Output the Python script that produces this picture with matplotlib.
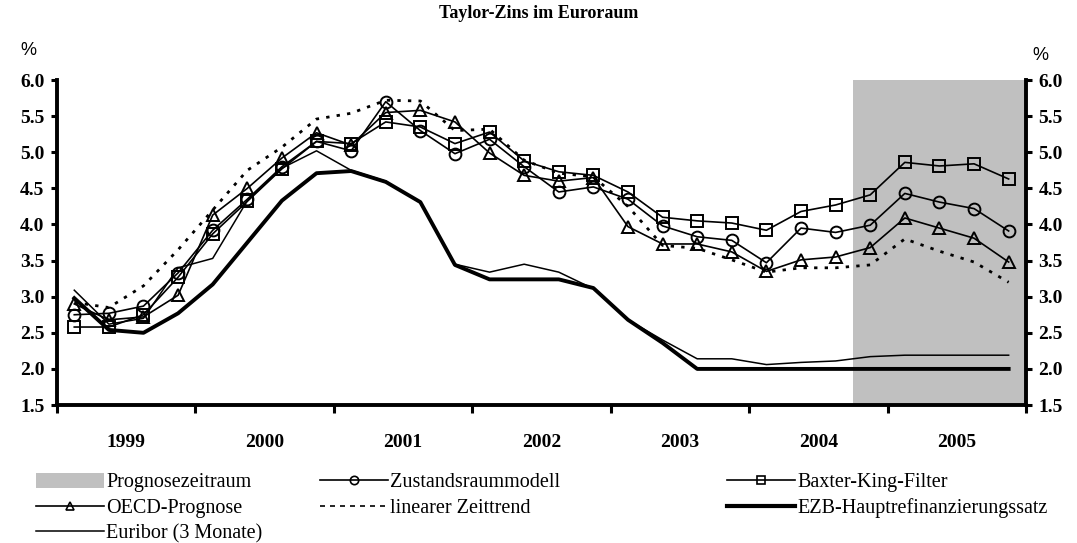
import numpy as np
import matplotlib
matplotlib.use('Agg')
import matplotlib.pyplot as plt
from matplotlib.patches import Patch
from matplotlib.lines import Line2D
from matplotlib.ticker import FormatStrFormatter, FixedLocator

plt.rcParams['font.family'] = ['Liberation Serif', 'DejaVu Serif']

years = ['1999', '2000', '2001', '2002', '2003', '2004', '2005']
# quarterly values 1999Q1 .. 2005Q4
zustand = [2.75, 2.77, 2.87, 3.33, 3.92, 4.35, 4.80, 5.15, 5.02, 5.70, 5.30, 4.98, 5.18, 4.80,
           4.45, 4.52, 4.35, 3.98, 3.83, 3.78, 3.47, 3.95, 3.89, 3.99, 4.43, 4.31, 4.22, 3.91]
baxter = [2.58, 2.58, 2.75, 3.27, 3.87, 4.32, 4.77, 5.15, 5.12, 5.42, 5.35, 5.12, 5.28, 4.88,
          4.73, 4.68, 4.45, 4.10, 4.05, 4.02, 3.92, 4.18, 4.27, 4.41, 4.86, 4.81, 4.84, 4.63]
oecd = [2.90, 2.68, 2.72, 3.02, 4.13, 4.50, 4.92, 5.27, 5.10, 5.55, 5.58, 5.42, 4.99, 4.68,
        4.60, 4.65, 3.97, 3.73, 3.73, 3.62, 3.35, 3.51, 3.55, 3.68, 4.09, 3.95, 3.81, 3.48]
trend = [2.92, 2.85, 3.15, 3.65, 4.20, 4.75, 5.07, 5.46, 5.54, 5.72, 5.71, 5.30, 5.32, 4.89,
         4.71, 4.66, 4.25, 3.71, 3.67, 3.51, 3.34, 3.40, 3.40, 3.44, 3.80, 3.63, 3.48, 3.20]
ezb = [2.98, 2.54, 2.50, 2.77, 3.17, 3.75, 4.33, 4.71, 4.74, 4.59, 4.31, 3.44, 3.24, 3.24,
       3.24, 3.12, 2.68, 2.36, 2.00, 2.00, 2.00, 2.00, 2.00, 2.00, 2.00, 2.00, 2.00, 2.00]
euribor = [3.09, 2.62, 2.70, 3.40, 3.53, 4.33, 4.78, 5.02, 4.75, 4.60, 4.30, 3.45, 3.34, 3.45,
           3.34, 3.11, 2.68, 2.40, 2.14, 2.14, 2.06, 2.09, 2.11, 2.17, 2.19, 2.19, 2.19, 2.19]
prog_start = 23  # first quarter of forecast period (2004Q4)

n = len(zustand)
x = np.arange(n) + 0.5

fig = plt.figure(figsize=(10.77, 5.43), dpi=100)
ax = fig.add_axes([0.0529, 0.2541, 0.8997, 0.5985])

ax.axvspan(prog_start, n, color='#c0c0c0', lw=0, zorder=0)

mk = dict(markersize=8.5, markerfacecolor='none', markeredgecolor='black', markeredgewidth=1.4)
ax.plot(x, euribor, color='black', lw=1.1, zorder=2)
ax.plot(x, ezb, color='black', lw=2.8, zorder=2)
ax.plot(x, trend, color='black', lw=2.0, linestyle=(0, (1.2, 2.6)), zorder=3)
ax.plot(x, oecd, color='black', lw=1.2, marker='^', zorder=4, **mk)
ax.plot(x, baxter, color='black', lw=1.2, marker='s', zorder=4, **mk)
ax.plot(x, zustand, color='black', lw=1.2, marker='o', zorder=4, **mk)

ax.set_xlim(0, n)
ax.set_ylim(1.5, 6.0)
ax.set_yticks(np.arange(1.5, 6.01, 0.5))
ax.yaxis.set_major_formatter(FormatStrFormatter('%.1f'))

ax.xaxis.set_major_locator(FixedLocator(np.arange(0, n + 1, 4)))
ax.xaxis.set_minor_locator(FixedLocator(np.arange(2, n, 4)))
ax.set_xticklabels([])
ax.set_xticklabels(years, minor=True)
ax.tick_params(axis='x', which='major', direction='out', length=6, width=2.2)
ax.tick_params(axis='x', which='minor', length=0, pad=21, labelsize=14)
ax.tick_params(axis='y', direction='out', length=4, width=2.2, pad=5, labelsize=14,
               right=True, labelright=True)
for lab in ax.get_xticklabels(minor=True) + ax.get_yticklabels():
    lab.set_fontweight('bold')

ax.spines['top'].set_visible(False)
for s in ['left', 'right', 'bottom']:
    ax.spines[s].set_linewidth(2.8)

fig.text(0.5, 0.975, 'Taylor-Zins im Euroraum', ha='center', va='center',
         fontsize=13, fontweight='bold')
fig.text(0.026, 0.907, '%', ha='center', va='center', fontsize=13, family='Liberation Sans')
fig.text(0.966, 0.897, '%', ha='center', va='center', fontsize=13, family='Liberation Sans')

lk = dict(color='black', markerfacecolor='none', markeredgecolor='black',
          markersize=6, markeredgewidth=1.2)
cols = [
    ([Patch(facecolor='#c0c0c0', edgecolor='none'),
      Line2D([], [], lw=1.2, marker='^', **lk),
      Line2D([], [], lw=1.1, color='black')],
     ['Prognosezeitraum', 'OECD-Prognose', 'Euribor (3 Monate)'], 0.033),
    ([Line2D([], [], lw=1.2, marker='o', **lk),
      Line2D([], [], lw=1.2, color='black', linestyle=(0, (3, 3)))],
     ['Zustandsraummodell', 'linearer Zeittrend'], 0.297),
    ([Line2D([], [], lw=1.2, marker='s', **lk),
      Line2D([], [], lw=3.0, color='black')],
     ['Baxter-King-Filter', 'EZB-Hauptrefinanzierungssatz'], 0.675),
]
for handles, labels, xpos in cols:
    fig.legend(handles, labels, loc='upper left', bbox_to_anchor=(xpos, 0.129),
               frameon=False, fontsize=14.5, handlelength=3.4, handleheight=0.75,
               handletextpad=0.1, labelspacing=0.3, borderpad=0, borderaxespad=0)

fig.savefig('out.png', dpi=100)
